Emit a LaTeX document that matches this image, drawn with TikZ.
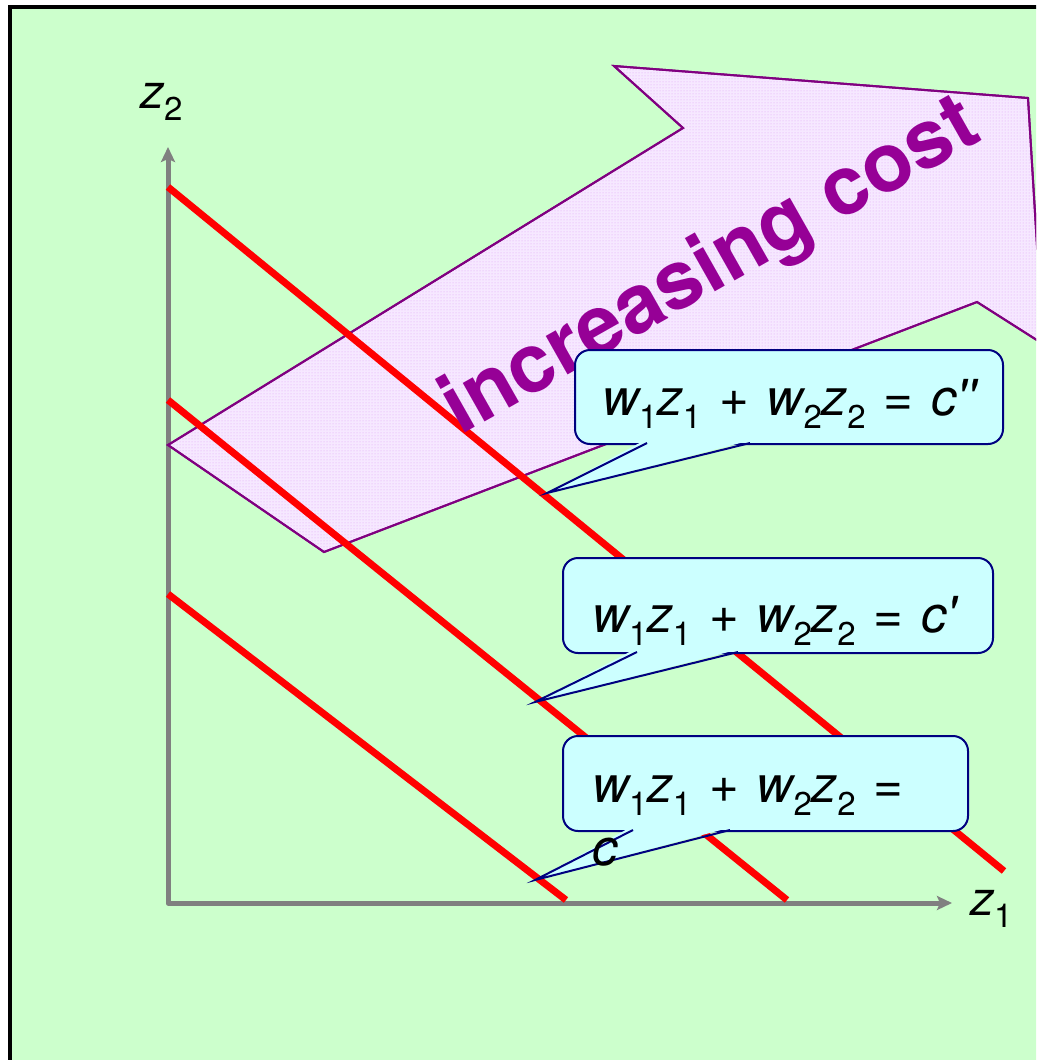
\documentclass[tikz,border=0pt]{standalone}
\usepackage{fontspec}
\setmainfont{TeX Gyre Heros}
\usetikzlibrary{arrows.meta,patterns}
\definecolor{bggreen}{RGB}{204,255,204}
\definecolor{axisgray}{RGB}{128,128,128}
\definecolor{arrowfill}{RGB}{246,232,255}
\definecolor{arrowdot}{RGB}{222,160,245}
\definecolor{arrowline}{RGB}{128,0,128}
\definecolor{costpurple}{RGB}{150,0,150}
\definecolor{callfill}{RGB}{204,255,255}
\definecolor{callline}{RGB}{0,0,128}
\newcommand{\eqsub}[1]{\raisebox{-0.26em}{\fontsize{33}{33}\selectfont #1}}
\newcommand{\eqgap}{\hspace{0.35em}}
\newcommand{\wzeq}{{\itshape w}\eqsub{1}{\itshape z}\eqsub{1}\eqgap+\eqgap{\itshape w}\eqsub{2}{\itshape z}\eqsub{2}\eqgap=}
\tikzset{
  axisline/.style={draw=axisgray, line width=5pt, line join=round},
  redline/.style={draw=red, line width=7pt},
  callbox/.style={draw=callline, fill=callfill, line width=2pt, rounded corners=15pt},
  eqtext/.style={anchor=base west, inner sep=0pt, font=\fontsize{51}{63}\selectfont, align=left},
  axlabel/.style={anchor=base west, inner sep=0pt, font=\fontsize{48}{48}\selectfont\itshape},
}
\begin{document}
\begin{tikzpicture}[x=1pt,y=-1pt]
\useasboundingbox (0,0) rectangle (1036,1060);
\fill[white] (0,0) rectangle (1036,1060);
\begin{scope}
\clip (0,0) rectangle (1036,1060);
\fill[bggreen] (10,7) rectangle (1100,1100);
\draw[black, line width=4pt] (10,7) rectangle (1100,1100);

% axes
\coordinate (O) at (168,903);
\coordinate (ytop) at (168,147);
\coordinate (xend) at (952,903);
\draw[axisline, {Stealth[length=15pt,width=14pt,inset=3pt]}-{Stealth[length=15pt,width=14pt,inset=3pt]}] (ytop) -- (O) -- (xend);
\node[axlabel] (zlab2) at (140,108) {z\eqsub{\upshape 2}};
\node[axlabel] (zlab1) at (970,915) {z\eqsub{\upshape 1}};

% big arrow
\coordinate (a1) at (168,445);
\coordinate (a2) at (683,128);
\coordinate (a3) at (614,66);
\coordinate (a4) at (1028,98);
\coordinate (a5) at (1043,344);
\coordinate (a6) at (977,302);
\coordinate (a7) at (324,552);
\draw[draw=arrowline, fill=arrowfill, line width=2pt, line join=miter,
      postaction={pattern=dots, pattern color=arrowdot}]
  (a1) -- (a2) -- (a3) -- (a4) -- (a5) -- (a6) -- (a7) -- cycle;
\draw[draw=arrowline, line width=2pt, line join=miter]
  (a1) -- (a2) -- (a3) -- (a4) -- (a5) -- (a6) -- (a7) -- cycle;

% red lines
\coordinate (r1a) at (168,187);
\coordinate (r1b) at (1004,871);
\coordinate (r2a) at (168,400);
\coordinate (r2b) at (787,900);
\coordinate (r3a) at (168,594);
\coordinate (r3b) at (566,900);
\draw[redline] (r1a) -- (r1b);
\draw[redline] (r2a) -- (r2b);
\draw[redline] (r3a) -- (r3b);

% increasing cost
\node[anchor=base west, inner sep=0pt, rotate=29.5, text=costpurple,
      font=\fontsize{82}{82}\selectfont\bfseries] (cost) at (460,436) {increasing cost};

% callout c''
\node[callbox, minimum width=428pt, minimum height=94pt, anchor=north west] (box1) at (574,349) {};
\coordinate (t1) at (547,493);
\fill[callfill] (645,440) -- (t1) -- (752,440) -- cycle;
\draw[callline, line width=2pt, line join=miter] (647,443) -- (t1) -- (750,443);
\node[eqtext] (eq1) at (602,415) {\wzeq\eqgap{\itshape c\textquotesingle\textquotesingle}};

% callout c'
\node[callbox, minimum width=430pt, minimum height=95pt, anchor=north west] (box2) at (562,557) {};
\coordinate (t2) at (535,702);
\fill[callfill] (635,649) -- (t2) -- (740,649) -- cycle;
\draw[callline, line width=2pt, line join=miter] (637,652) -- (t2) -- (738,652);
\node[eqtext] (eq2) at (592,632) {\wzeq\eqgap{\itshape c\textquotesingle}};

% callout c
\node[callbox, minimum width=405pt, minimum height=95pt, anchor=north west] (box3) at (562,735) {};
\coordinate (t3) at (535,880);
\fill[callfill] (631,827) -- (t3) -- (732,827) -- cycle;
\draw[callline, line width=2pt, line join=miter] (633,830) -- (t3) -- (730,830);
\node[eqtext] (eq3) at (592,865) {\wzeq\\{\itshape c}};
\end{scope}
\end{tikzpicture}
\end{document}
